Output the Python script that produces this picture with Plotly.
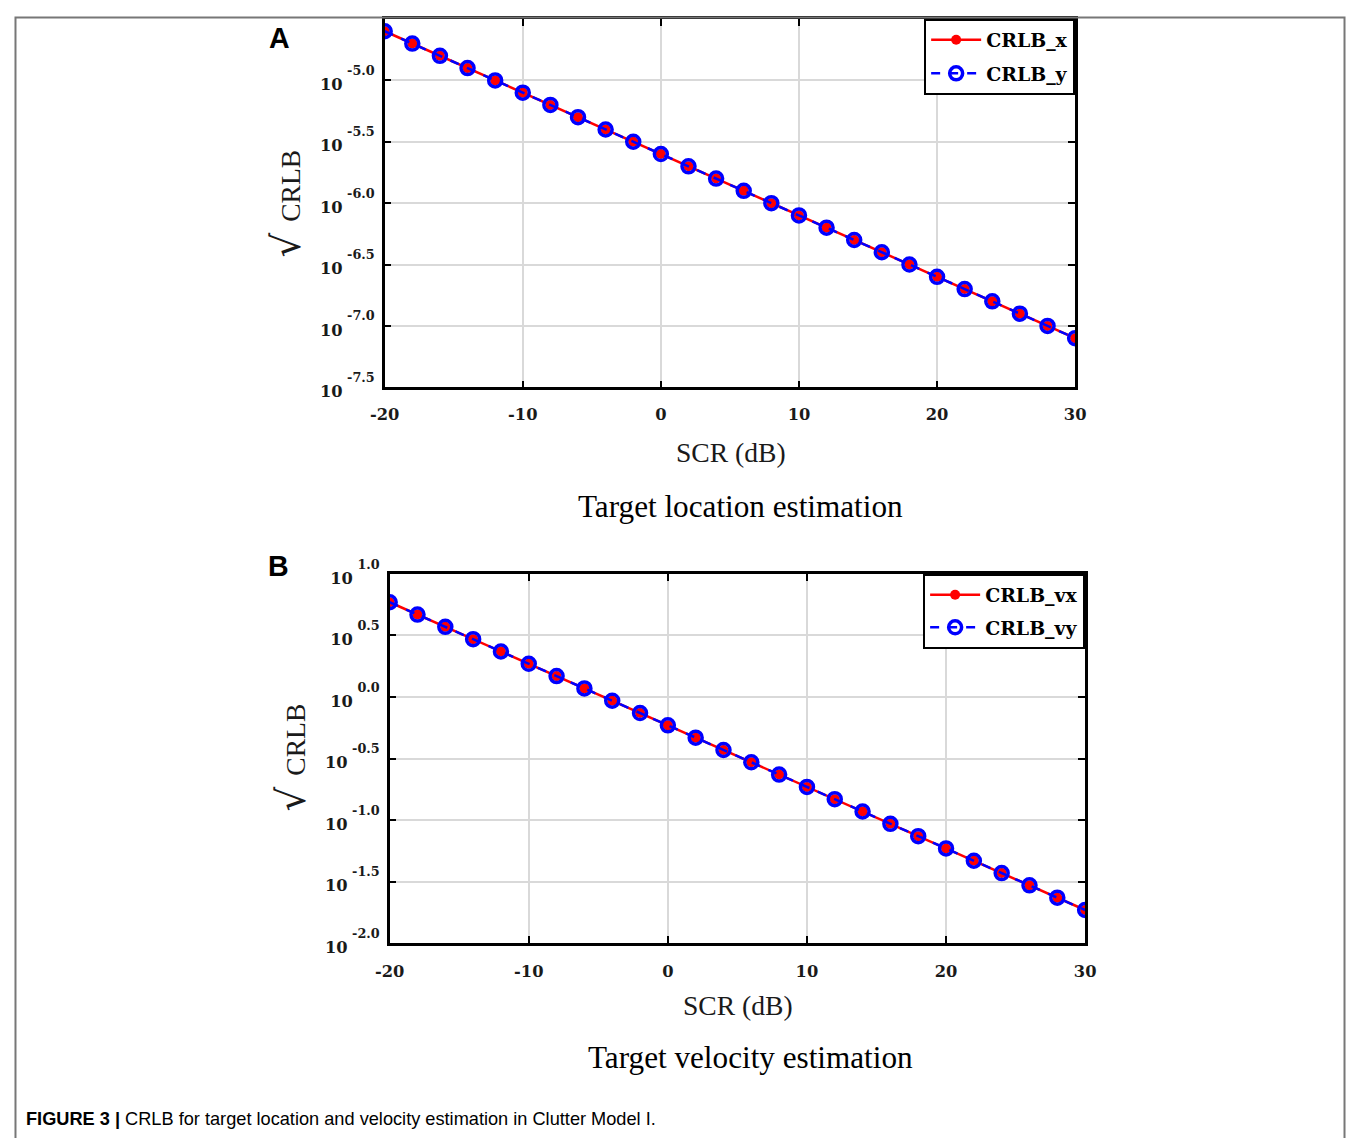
import plotly.graph_objects as go

# ---------------- data ----------------
scr_db = [-20, -18, -16, -14, -12, -10, -8, -6, -4, -2, 0, 2, 4, 6, 8, 10,
          12, 14, 16, 18, 20, 22, 24, 26, 28, 30]

crlb_x = [2.512e-5, 1.995e-5, 1.585e-5, 1.259e-5, 1.000e-5, 7.943e-6, 6.310e-6,
          5.012e-6, 3.981e-6, 3.162e-6, 2.512e-6, 1.995e-6, 1.585e-6, 1.259e-6,
          1.000e-6, 7.943e-7, 6.310e-7, 5.012e-7, 3.981e-7, 3.162e-7, 2.512e-7,
          1.995e-7, 1.585e-7, 1.259e-7, 1.000e-7, 7.943e-8]
crlb_y = [2.512e-5, 1.995e-5, 1.585e-5, 1.259e-5, 1.000e-5, 7.943e-6, 6.310e-6,
          5.012e-6, 3.981e-6, 3.162e-6, 2.512e-6, 1.995e-6, 1.585e-6, 1.259e-6,
          1.000e-6, 7.943e-7, 6.310e-7, 5.012e-7, 3.981e-7, 3.162e-7, 2.512e-7,
          1.995e-7, 1.585e-7, 1.259e-7, 1.000e-7, 7.943e-8]

crlb_vx = [5.888, 4.677, 3.715, 2.951, 2.344, 1.862, 1.479, 1.175, 0.9333, 0.7413,
           0.5888, 0.4677, 0.3715, 0.2951, 0.2344, 0.1862, 0.1479, 0.1175, 0.09333,
           0.07413, 0.05888, 0.04677, 0.03715, 0.02951, 0.02344, 0.01862]
crlb_vy = [5.888, 4.677, 3.715, 2.951, 2.344, 1.862, 1.479, 1.175, 0.9333, 0.7413,
           0.5888, 0.4677, 0.3715, 0.2951, 0.2344, 0.1862, 0.1479, 0.1175, 0.09333,
           0.07413, 0.05888, 0.04677, 0.03715, 0.02951, 0.02344, 0.01862]

x_ticks = [-20, -10, 0, 10, 20, 30]
x_tick_text = ["-20", "-10", "0", "10", "20", "30"]
y_exp_top = [-7.5, -7.0, -6.5, -6.0, -5.5, -5.0]
y_exp_bot = [-2.0, -1.5, -1.0, -0.5, 0.0, 0.5, 1.0]

W, H = 1356, 1141
# the photographed page appears slightly shrunk; compensate
AX, BX = 0.9830, 12.5
AY, BY = 0.9747, 20.0
S = 2 / (AX + AY)


def fs(v):
    return round(v * S, 1)


def px_x(p):
    return min(max(((p - BX) / AX) / W, 0.0), 1.0)


def px_y(p):
    return min(max(1 - ((p - BY) / AY) / H, 0.0), 1 - 2.0 / H)


SERIF = "Liberation Serif"
TICK_SERIF = "DejaVu Serif"
TICKFONT = dict(family=TICK_SERIF, size=fs(16), color="#1a1a1a", weight="bold")

fig = go.Figure()


def add_pair(xa, ya, xs, ys1, ys2, n1, n2, leg):
    fig.add_trace(go.Scatter(
        x=xs, y=ys1, name=n1, mode="lines+markers", xaxis=xa, yaxis=ya,
        line=dict(color="#ff0000", width=2.5),
        marker=dict(symbol="circle", size=10, color="#ff0000"),
        legend=leg, legendgroup=n1))
    fig.add_trace(go.Scatter(
        x=xs, y=ys2, name=n2, mode="lines+markers", xaxis=xa, yaxis=ya,
        line=dict(color="#0000ff", width=2.5, dash="dash"),
        marker=dict(symbol="circle-open", size=13, color="#0000ff",
                    line=dict(width=3.5, color="#0000ff")),
        legend=leg, legendgroup=n2))


add_pair("x", "y", scr_db, crlb_x, crlb_y, "CRLB_x", "CRLB_y", "legend")
add_pair("x2", "y2", scr_db, crlb_vx, crlb_vy, "CRLB_vx", "CRLB_vy", "legend2")

axis_common = dict(
    showline=True, linecolor="black", linewidth=2.5, mirror="ticks",
    ticks="inside", ticklen=7, tickwidth=2, tickcolor="black",
    showgrid=True, gridcolor="#d9d9d9", gridwidth=1.5, zeroline=False,
    tickfont=TICKFONT,
)


def fmt(e):
    s = f"{e:.1f}"
    return (f"10<span style='font-size:36px'><sup>"
            f"<span style='font-size:{fs(12.5)}px'> {s}</span></sup></span>")


top_dom_x = [px_x(383), px_x(1075)]
top_dom_y = [px_y(391), px_y(22)]
bot_dom_x = [px_x(388), px_x(1085)]
bot_dom_y = [px_y(948), px_y(578)]

legend_font = dict(family=TICK_SERIF, size=fs(18.5), color="black", weight="bold")

fig.update_layout(
    width=W, height=H,
    margin=dict(l=0, r=0, t=0, b=0),
    paper_bgcolor="white", plot_bgcolor="white",
    showlegend=True,
    xaxis=dict(domain=top_dom_x, anchor="y", range=[-20, 30],
               tickvals=x_ticks, ticktext=x_tick_text, ticklabelstandoff=10,
               **axis_common),
    yaxis=dict(domain=top_dom_y, anchor="x", type="log", range=[-7.5, -4.5],
               tickvals=[10 ** e for e in y_exp_top],
               ticktext=[fmt(e) for e in y_exp_top], ticklabelstandoff=4,
               ticklabelshift=4, **axis_common),
    xaxis2=dict(domain=bot_dom_x, anchor="y2", range=[-20, 30],
                tickvals=x_ticks, ticktext=x_tick_text, ticklabelstandoff=11,
                **axis_common),
    yaxis2=dict(domain=bot_dom_y, anchor="x2", type="log", range=[-2.0, 1.0],
                tickvals=[10 ** e for e in y_exp_bot],
                ticktext=[fmt(e) for e in y_exp_bot], ticklabelstandoff=4,
                ticklabelshift=4, **axis_common),
    legend=dict(x=top_dom_x[1], y=top_dom_y[1], xanchor="right", yanchor="top",
                bgcolor="white", bordercolor="black", borderwidth=2,
                font=legend_font, tracegroupgap=6, itemwidth=50),
    legend2=dict(x=bot_dom_x[1], y=bot_dom_y[1], xanchor="right", yanchor="top",
                 bgcolor="white", bordercolor="black", borderwidth=2,
                 font=legend_font, tracegroupgap=5, itemwidth=50),
)


def note(x, y, text, font, **kw):
    d = dict(x=px_x(x), y=px_y(y), xref="paper", yref="paper", text=text,
             showarrow=False, xanchor="center", yanchor="middle", font=font)
    d.update(kw)
    return d


annos = []
# y-axis titles
ytitle = (f"<span style='font-family:DejaVu Serif;font-size:{fs(38)}px'>√</span>"
          f"<span style='font-size:{fs(16)}px'> </span> CRLB")
yt_font = dict(family=SERIF, size=fs(27), color="#1a1a1a")
annos.append(note(285, 207, ytitle, yt_font, textangle=-90))
annos.append(note(290, 762, ytitle, yt_font, textangle=-90))
# x-axis titles
xt_font = dict(family=SERIF, size=fs(27), color="#1a1a1a")
annos.append(note(730, 456, "SCR (dB)", xt_font))
annos.append(note(737, 1010, "SCR (dB)", xt_font))
# subtitles
st_font = dict(family=SERIF, size=fs(30.5), color="black")
annos.append(note(740, 510, "Target location estimation", st_font))
annos.append(note(750, 1062, "Target velocity estimation", st_font))
# panel labels
pl_font = dict(family="Liberation Sans", size=fs(28), color="black")
annos.append(note(278, 41, "<b>A</b>", pl_font))
annos.append(note(277, 570, "<b>B</b>", pl_font))
# caption
annos.append(note(22, 1124,
                  "<b>FIGURE 3 |</b> CRLB for target location and velocity estimation in Clutter Model I.",
                  dict(family="Liberation Sans", size=fs(17.8), color="black"),
                  xanchor="left"))
fig.update_layout(annotations=annos)

# outer frame (open at bottom)
fl, fr, ft = 0.5 / W, 1 - 0.5 / W, 1 - 0.5 / H
fig.add_shape(type="path", xref="paper", yref="paper",
              path=f"M {fl} -0.01 L {fl} {ft} L {fr} {ft} L {fr} -0.01",
              line=dict(color="#777777", width=2))

fig.write_html(
    "out.html",
    config={"displayModeBar": False},
    post_script="document.body.style.margin='0';document.body.style.overflow='hidden';",
)
